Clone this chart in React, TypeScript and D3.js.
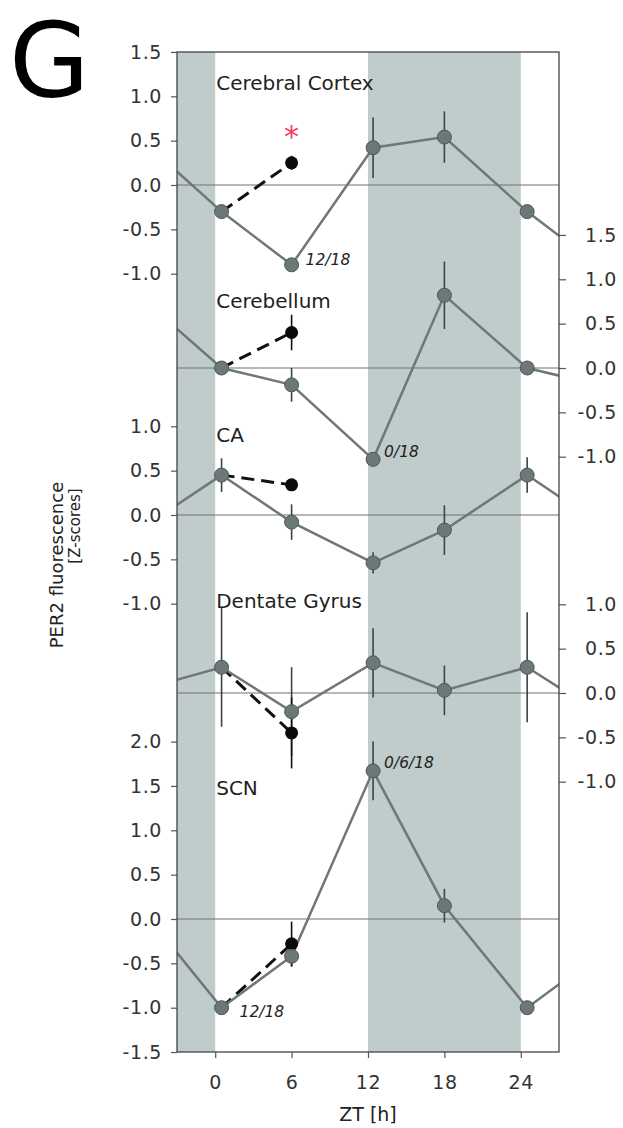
import React, { useEffect, useRef } from "react";
import * as d3 from "d3";

const W = 623, H = 1128;
const frameL = 177, frameR = 559, frameT = 52, frameB = 1052;
const unit = 88.7; // px per z-score unit, same in every panel

// ZT of the grey points (slightly jittered in the original)
const zt = [0.5, 6, 12.4, 18, 24.5];
const xTicks = [0, 6, 12, 18, 24];
const darkBands = [[-3, 0], [12, 24]];

const regions = ["Cerebral Cortex", "Cerebellum", "CA", "Dentate Gyrus", "SCN"];
const cortexMean = [-0.3, -0.9, 0.42, 0.54, -0.3];
const cortexErr = [0.05, 0.04, 0.34, 0.29, 0.05];
const cerebellumMean = [0, -0.19, -1.03, 0.82, 0];
const cerebellumErr = [0.04, 0.19, 0.04, 0.38, 0.04];
const caMean = [0.45, -0.08, -0.54, -0.17, 0.45];
const caErr = [0.19, 0.2, 0.12, 0.28, 0.2];
const dgMean = [0.29, -0.21, 0.34, 0.03, 0.29];
const dgErr = [0.67, 0.5, 0.39, 0.28, 0.62];
const scnMean = [-1.0, -0.42, 1.67, 0.15, -1.0];
const scnErr = [0.05, 0.12, 0.33, 0.19, 0.05];

// black points at ZT6 (treated group)
const blackMean = [0.25, 0.4, 0.34, -0.45, -0.28];
const blackErr = [0.08, 0.2, 0.04, 0.4, 0.25];

const means = [cortexMean, cerebellumMean, caMean, dgMean, scnMean];
const errs = [cortexErr, cerebellumErr, caErr, dgErr, scnErr];
const axisSide = ["left", "right", "left", "right", "left"];
const tickSets = [
  [1.5, 1, 0.5, 0, -0.5, -1],
  [1.5, 1, 0.5, 0, -0.5, -1],
  [1, 0.5, 0, -0.5, -1],
  [1, 0.5, 0, -0.5, -1],
  [2, 1.5, 1, 0.5, 0, -0.5, -1, -1.5],
];
const zeroY = [185, 368, 515, 693, 919];

// little italic notes next to some points
const notes = [
  { panel: 0, idx: 1, text: "12/18", dx: 14, dy: -5 },
  { panel: 1, idx: 2, text: "0/18", dx: 11, dy: -8 },
  { panel: 4, idx: 2, text: "0/6/18", dx: 11, dy: -8 },
  { panel: 4, idx: 0, text: "12/18", dx: 18, dy: 4 },
];

const font = "'DejaVu Sans', Arial, sans-serif";
const shade = "#bfcccb";
const lineCol = "#6e7876";
const dotFill = "#6b7875";

const App = () => {
  const ref = useRef<SVGSVGElement>(null);

  useEffect(() => {
    const svg = d3.select(ref.current);
    svg.selectAll("*").remove();

    const x = d3.scaleLinear().domain([-3, 27]).range([frameL, frameR]);

    svg.append("defs").append("clipPath").attr("id", "frame")
      .append("rect")
      .attr("x", frameL).attr("y", frameT)
      .attr("width", frameR - frameL).attr("height", frameB - frameT);

    // dark phase bands
    svg.append("g").selectAll("rect")
      .data(darkBands)
      .enter()
      .append("rect")
      .attr("x", d => x(d[0]))
      .attr("width", d => x(d[1]) - x(d[0]))
      .attr("y", frameT)
      .attr("height", frameB - frameT)
      .attr("fill", shade);

    const plot = svg.append("g").attr("clip-path", "url(#frame)");

    means.forEach((vals, p) => {
      const y = d3.scaleLinear().domain([0, 1]).range([zeroY[p], zeroY[p] - unit]);

      // zero line
      plot.append("line")
        .attr("x1", frameL).attr("x2", frameR)
        .attr("y1", y(0)).attr("y2", y(0))
        .attr("stroke", "#707070").attr("stroke-width", 1.2);

      // axis
      const ax = axisSide[p] === "left"
        ? d3.axisLeft(y).tickValues(tickSets[p]).tickSize(6).tickPadding(9)
        : d3.axisRight(y).tickValues(tickSets[p]).tickSize(7).tickPadding(9);
      const g = svg.append("g")
        .attr("transform", "translate(" + (axisSide[p] === "left" ? frameL : frameR) + ",0)")
        .call(ax.tickFormat((v: any) => (+v).toFixed(1)));
      g.select(".domain").remove();
      g.selectAll("line").attr("stroke", "#555").attr("stroke-width", 1.2);
      g.selectAll("text")
        .attr("font-family", font).attr("font-size", 19)
        .attr("letter-spacing", 0.6).attr("fill", "#333");
      if (axisSide[p] === "right") {
        g.selectAll("text").attr("text-anchor", "end").attr("x", 617 - frameR);
      }

      // wrapped line: ZT18 shown at -6 and ZT6 at 30 so the line runs to the edges
      const pts = zt.map((t, i) => [t, vals[i]]);
      const linePts = [[zt[3] - 24, vals[3]], ...pts, [zt[1] + 24, vals[1]]];
      const line = d3.line().x((d: any) => x(d[0])).y((d: any) => y(d[1]));

      // dashed link to the black point
      plot.append("path")
        .attr("d", line([[zt[0], vals[0]], [zt[1], blackMean[p]]] as any))
        .attr("fill", "none").attr("stroke", "#111")
        .attr("stroke-width", 3).attr("stroke-dasharray", "13,7");

      plot.append("path")
        .attr("d", line(linePts as any))
        .attr("fill", "none").attr("stroke", lineCol).attr("stroke-width", 2.5);

      // error bars
      plot.append("g").selectAll("line")
        .data(pts)
        .enter()
        .append("line")
        .attr("x1", d => x(d[0])).attr("x2", d => x(d[0]))
        .attr("y1", (d, i) => y(d[1] + errs[p][i]))
        .attr("y2", (d, i) => y(d[1] - errs[p][i]))
        .attr("stroke", "#3c4442").attr("stroke-width", 1.6);

      plot.append("line")
        .attr("x1", x(zt[1])).attr("x2", x(zt[1]))
        .attr("y1", y(blackMean[p] + blackErr[p]))
        .attr("y2", y(blackMean[p] - blackErr[p]))
        .attr("stroke", "#111").attr("stroke-width", 1.6);

      plot.append("circle")
        .attr("cx", x(zt[1])).attr("cy", y(blackMean[p]))
        .attr("r", 6.5).attr("fill", "#0a0a0a");

      plot.append("g").selectAll("circle")
        .data(pts)
        .enter()
        .append("circle")
        .attr("cx", d => x(d[0]))
        .attr("cy", d => y(d[1]))
        .attr("r", 7)
        .attr("fill", dotFill)
        .attr("stroke", "#4d5856").attr("stroke-width", 1);

      svg.append("text")
        .attr("x", x(0) + 1)
        .attr("y", y(0))
        .attr("dy", [-95, -60, -73, -85, -124][p])
        .attr("font-family", font).attr("font-size", 20).attr("fill", "#222")
        .text(regions[p]);

      notes.filter(n => n.panel === p).forEach(n => {
        svg.append("text")
          .attr("x", x(zt[n.idx]) + n.dx)
          .attr("y", y(vals[n.idx]) + n.dy)
          .attr("dy", "0.35em")
          .attr("font-family", font).attr("font-size", 15.5)
          .attr("font-style", "italic").attr("fill", "#222")
          .text(n.text);
      });

      if (p === 0) {
        svg.append("text")
          .attr("x", x(zt[1]))
          .attr("y", y(blackMean[p]) - 16)
          .attr("text-anchor", "middle")
          .attr("font-family", font).attr("font-size", 30)
          .attr("fill", "#ff3b5f")
          .text("*");
      }
    });

    // frame
    svg.append("rect")
      .attr("x", frameL).attr("y", frameT)
      .attr("width", frameR - frameL).attr("height", frameB - frameT)
      .attr("fill", "none").attr("stroke", "#444").attr("stroke-width", 1.3);

    // x axis
    const xg = svg.append("g")
      .attr("transform", "translate(0," + frameB + ")")
      .call(d3.axisBottom(x).tickValues(xTicks).tickSize(6).tickPadding(18).tickFormat(d3.format("d")));
    xg.select(".domain").remove();
    xg.selectAll("line").attr("stroke", "#555").attr("stroke-width", 1.2);
    xg.selectAll("text").attr("font-family", font).attr("font-size", 19)
      .attr("letter-spacing", 0.6).attr("fill", "#333");

    svg.append("text")
      .attr("x", (frameL + frameR) / 2).attr("y", 1121)
      .attr("text-anchor", "middle")
      .attr("font-family", font).attr("font-size", 19).attr("fill", "#222")
      .text("ZT [h]");

    svg.append("text")
      .attr("transform", "translate(63,565) rotate(-90)")
      .attr("text-anchor", "middle")
      .attr("font-family", font).attr("font-size", 18).attr("fill", "#222")
      .text("PER2 fluorescence");
    svg.append("text")
      .attr("transform", "translate(80,526) rotate(-90)")
      .attr("text-anchor", "middle")
      .attr("font-family", font).attr("font-size", 15).attr("fill", "#222")
      .text("[Z-scores]");

    svg.append("text")
      .attr("x", 9).attr("y", 97)
      .attr("font-family", font).attr("font-size", 104).attr("fill", "#000")
      .text("G");
  }, []);

  return (
    <svg
      ref={ref}
      width={W}
      height={H}
      style={{ position: "absolute", left: 0, top: 0, background: "#fff" }}
    />
  );
};

export default App;
